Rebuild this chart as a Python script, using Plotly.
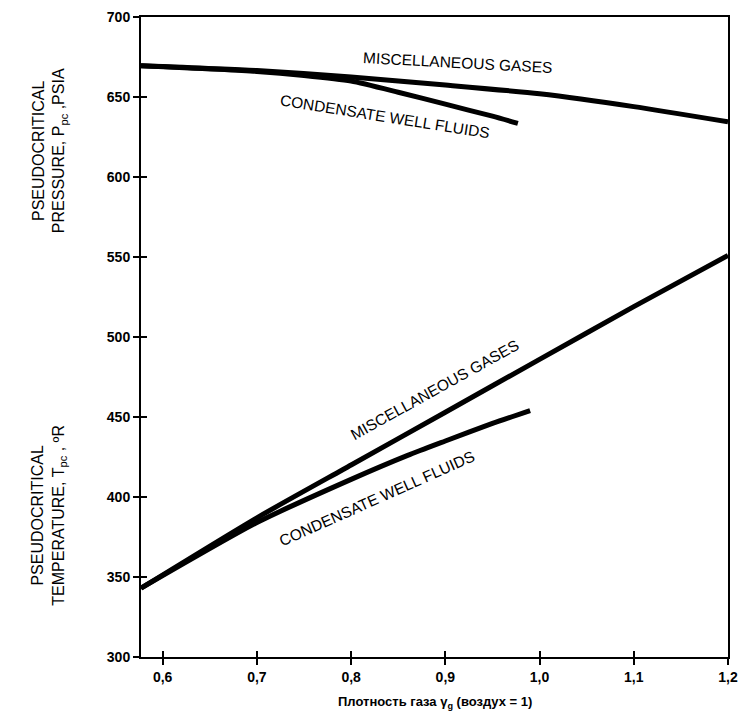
import plotly.graph_objects as go

# Gas specific gravity (air = 1) and pseudocritical properties
sg_misc_p = [0.577, 0.70, 0.80, 0.90, 1.00, 1.10, 1.20]
ppc_misc = [669.5, 666.5, 662.5, 657.5, 652.0, 644.0, 634.5]

sg_cond_p = [0.577, 0.70, 0.75, 0.80, 0.85, 0.90, 0.95, 0.977]
ppc_cond = [669.5, 666.0, 663.5, 660.0, 653.0, 645.5, 638.0, 633.5]

sg_misc_t = [0.577, 0.70, 0.80, 0.90, 1.00, 1.10, 1.20]
tpc_misc = [343.0, 387.0, 420.0, 453.0, 486.0, 519.0, 551.0]

sg_cond_t = [0.577, 0.70, 0.80, 0.86, 0.90, 0.95, 0.99]
tpc_cond = [343.0, 384.0, 411.0, 426.0, 435.0, 446.0, 454.0]

x_ticks = [0.6, 0.7, 0.8, 0.9, 1.0, 1.1, 1.2]
y_ticks = [300, 350, 400, 450, 500, 550, 600, 650, 700]

FONT = "Liberation Sans, Arial, sans-serif"
LW = 5

fig = go.Figure()
for xs, ys in [(sg_misc_p, ppc_misc), (sg_cond_p, ppc_cond),
               (sg_misc_t, tpc_misc), (sg_cond_t, tpc_cond)]:
    fig.add_trace(go.Scatter(x=xs, y=ys, mode="lines",
                             line=dict(color="black", width=LW, shape="spline", smoothing=0.6),
                             showlegend=False, hoverinfo="skip"))

# invisible trace on the overlay axes that carry the inner half of the ticks
fig.add_trace(go.Scatter(x=[x_ticks[0]], y=[y_ticks[0]], xaxis="x2", yaxis="y2",
                         mode="markers", marker=dict(opacity=0), showlegend=False,
                         hoverinfo="skip"))

x_range = [0.577, 1.2]
y_range = [300, 700]

fig.update_layout(
    width=747, height=724,
    margin=dict(l=141, r=9, t=16, b=67),
    paper_bgcolor="white", plot_bgcolor="white",
    separators=", ",
    font=dict(family=FONT, color="black"),
    xaxis=dict(range=x_range, tickvals=x_ticks, tickformat=".1f",
               ticks="outside", ticklen=6, tickwidth=2, tickcolor="black",
               showline=True, linecolor="black", linewidth=2, mirror=True,
               showgrid=False, zeroline=False,
               tickfont=dict(size=14, weight="bold", family=FONT)),
    yaxis=dict(range=y_range, tickvals=y_ticks,
               ticks="outside", ticklen=6, tickwidth=2, tickcolor="black",
               showline=True, linecolor="black", linewidth=2, mirror=True,
               showgrid=False, zeroline=False,
               tickfont=dict(size=14, weight="bold", family=FONT)),
    xaxis2=dict(range=x_range, tickvals=x_ticks, overlaying="x", showticklabels=False,
                ticks="inside", ticklen=6, tickwidth=2, tickcolor="black",
                showline=False, showgrid=False, zeroline=False),
    yaxis2=dict(range=y_range, tickvals=y_ticks, overlaying="y", showticklabels=False,
                ticks="inside", ticklen=6, tickwidth=2, tickcolor="black",
                showline=False, showgrid=False, zeroline=False),
)

curve_font = dict(family=FONT, size=15.5, color="black")
notes = [
    ("MISCELLANEOUS GASES", 0.913, 671.5, 3),
    ("CONDENSATE WELL FLUIDS", 0.836, 638.0, 9),
    ("MISCELLANEOUS GASES", 0.889, 467.0, -29),
    ("CONDENSATE WELL FLUIDS", 0.827, 399.0, -24),
]
for text, x, y, ang in notes:
    fig.add_annotation(x=x, y=y, xref="x", yref="y", text=text, showarrow=False,
                       xanchor="center", yanchor="middle",
                       textangle=ang, font=curve_font)

axis_font = dict(family=FONT, size=16, color="black")
fig.add_annotation(x=-0.156, y=0.791, xref="paper", yref="paper", showarrow=False,
                   xanchor="center", yanchor="middle",
                   textangle=-90, font=axis_font, align="center",
                   text="PSEUDOCRITICAL<br>PRESSURE, P<sub>pc</sub> ,PSIA")
fig.add_annotation(x=-0.156, y=0.2215, xref="paper", yref="paper", showarrow=False,
                   xanchor="center", yanchor="middle",
                   textangle=-90, font=axis_font, align="center",
                   text="PSEUDOCRITICAL<br>TEMPERATURE, T<sub>pc</sub> , ºR")
fig.add_annotation(x=0.5, y=-0.055, xref="paper", yref="paper", showarrow=False,
                   xanchor="center", yanchor="top",
                   font=dict(family=FONT, size=13, color="black", weight="bold"),
                   text="Плотность газа γ<sub>g</sub> (воздух = 1)")

fig.write_html("out.html")
